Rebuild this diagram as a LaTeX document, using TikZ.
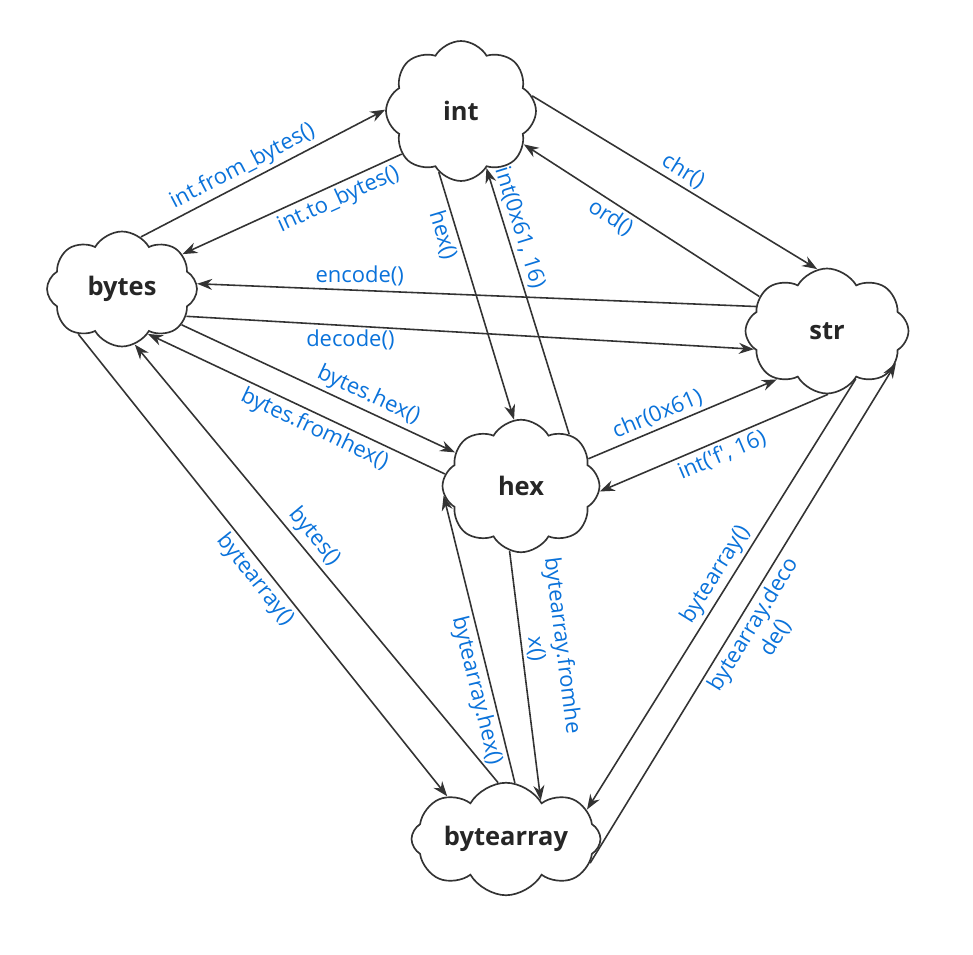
\documentclass[tikz,border=0pt]{standalone}
\usepackage{fontspec}
\setmainfont{Open Sans}
\usetikzlibrary{shapes.symbols, arrows.meta}
\tikzset{>={Stealth[length=3mm,width=2.2mm]}}
\definecolor{labelblue}{HTML}{0A72DA}
\definecolor{linegray}{HTML}{333333}

\begin{document}
\begin{tikzpicture}[x=0.02cm,y=-0.02cm,
  cloudnode/.style={cloud, cloud puffs=8, cloud puff arc=120,
    draw=linegray, line width=0.95pt, fill=white, inner sep=0pt,
    font=\fontsize{14.5}{17}\selectfont\bfseries, text=black!85},
  conv/.style={->, draw=linegray, line width=0.9pt},
  lbl/.style={text=labelblue, font=\fontsize{12.5}{15}\selectfont, inner sep=2pt},
  along/.style={lbl, sloped}]
\useasboundingbox (0,0) rectangle (973,955);
\node[cloudnode, aspect=1.08, minimum width=3cm, minimum height=2.8cm] (int) at (461,111) {int};
\node[cloudnode, aspect=1.32, minimum width=3cm, minimum height=2.3cm] (bytes) at (122,289) {bytes};
\node[cloudnode, aspect=1.34, minimum width=3.26cm, minimum height=2.5cm] (str) at (827,331) {str};
\node[cloudnode, aspect=1.16, minimum width=3.14cm, minimum height=2.65cm] (hex) at (521,486) {hex};
\node[cloudnode, aspect=2.2, minimum width=3.78cm, minimum height=1.85cm] (bytearray) at (506,839) {bytearray};

\draw[conv] (bytes.70) -- node[along, pos=0.445, above] {int.from\_bytes()} (int.179);
\draw[conv] (int.216) -- node[along, pos=0.317, below] {int.to\_bytes()} (bytes.30);
\draw[conv] (int.12) -- node[along, pos=0.504, above] {chr()} (str.99);
\draw[conv] (str.153) -- node[along, pos=0.598, below] {ord()} (int.332);
\draw[conv] (str.161) -- node[lbl, pos=0.709, above] {encode()} (bytes.4);
\draw[conv] (bytes.-23) -- node[lbl, pos=0.289, below] {decode()} (str.194);
\draw[conv] (int.250) -- node[along, pos=0.238, below] {hex()} (hex.96);
\draw[conv] (hex.47) -- node[along, pos=0.76, above] {int(0x61, 16)} (int.294);
\draw[conv] (bytes.-31) -- node[along, pos=0.66, above] {bytes.hex()} (hex.153);
\draw[conv] (hex.171) -- node[along, pos=0.417, below] {bytes.fromhex()} (bytes.300);
\draw[conv] (hex.22) -- node[along, pos=0.396, above] {chr(0x61)} (str.224);
\draw[conv] (str.271) -- node[along, pos=0.489, below] {int(\textquotesingle f\textquotesingle, 16)} (hex.356);
\draw[conv] (bytes.226) -- node[along, pos=0.511, below] {bytearray()} (bytearray.144);
\draw[conv] (bytearray.98) -- node[along, pos=0.539, above] {bytes()} (bytes.283);
\draw[conv] (hex.260) -- node[along, pos=0.40, above, align=center] {bytearray.fromhe\\x()} (bytearray.48);
\draw[conv] (bytearray.81) -- node[along, pos=0.332, below] {bytearray.hex()} (hex.187);
\draw[conv] (str.301) -- node[along, pos=0.473, above] {bytearray()} (bytearray.20);
\draw[conv] (bytearray.344) -- node[along, pos=0.493, below, align=center] {bytearray.deco\\de()} (str.335);
\end{tikzpicture}
\end{document}
